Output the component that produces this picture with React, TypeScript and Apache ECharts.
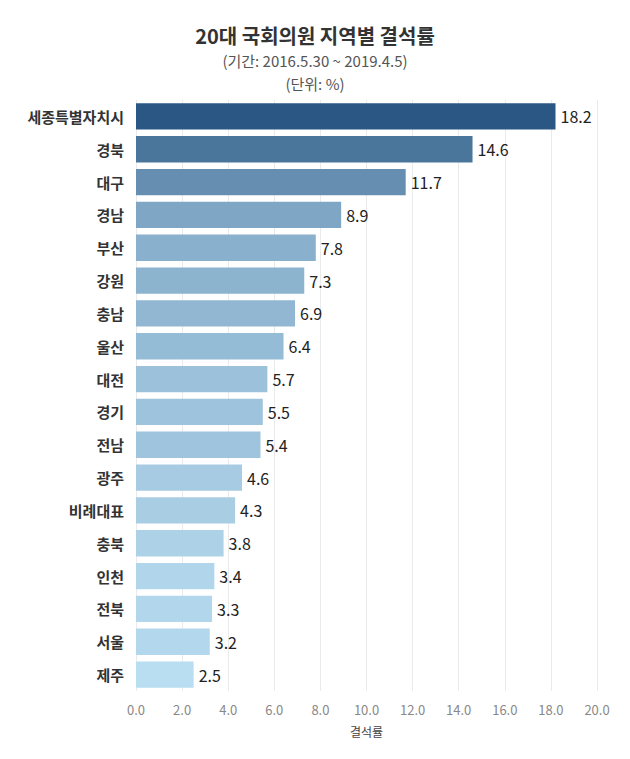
import React, { useEffect, useRef } from 'react';
import * as echarts from 'echarts';

const regions = ['세종특별자치시', '경북', '대구', '경남', '부산', '강원', '충남', '울산', '대전', '경기', '전남', '광주', '비례대표', '충북', '인천', '전북', '서울', '제주'];
const absenceRates = [18.2, 14.6, 11.7, 8.9, 7.8, 7.3, 6.9, 6.4, 5.7, 5.5, 5.4, 4.6, 4.3, 3.8, 3.4, 3.3, 3.2, 2.5];

const FONT = '"Noto Sans CJK KR", "Noto Sans", sans-serif';

const App = () => {
  const chartRef = useRef<HTMLDivElement>(null);

  useEffect(() => {
    if (!chartRef.current) return;
    const chart = echarts.init(chartRef.current, null, { renderer: 'svg' });
    const sub = { fontSize: 15, color: '#555', fontWeight: 'normal' as const, fontFamily: FONT };
    const option: echarts.EChartsOption = {
      animation: false,
      textStyle: { fontFamily: FONT },
      title: [
        {
          text: '20대 국회의원 지역별 결석률',
          left: 'center',
          top: 12,
          textStyle: { fontSize: 20, fontWeight: 'bold', color: '#333', fontFamily: FONT },
        },
        { text: '(기간: 2016.5.30 ~ 2019.4.5)', left: 'center', top: 40, textStyle: sub },
        { text: '(단위: %)', left: 'center', top: 63, textStyle: sub },
      ],
      visualMap: {
        show: false,
        min: 2.5,
        max: 18.2,
        dimension: 0,
        inRange: { color: ['#b9ddf1', '#2a5783'] },
      },
      grid: { left: 128, right: 25, top: 92, bottom: 60 },
      xAxis: {
        type: 'value',
        min: 0,
        max: 20,
        interval: 2,
        name: '결석률',
        nameLocation: 'middle',
        nameGap: 34,
        nameTextStyle: { fontSize: 12, color: '#444' },
        axisLabel: { formatter: (v: number) => v.toFixed(1), color: '#888', fontSize: 13, margin: 12 },
        splitLine: { lineStyle: { color: '#eaeaea' } },
        axisLine: { show: false },
      },
      yAxis: {
        type: 'category',
        inverse: true,
        data: regions,
        axisTick: { show: false },
        axisLine: { show: false },
        axisLabel: { fontSize: 15, fontWeight: 'bold', color: '#333', margin: 12 },
      },
      series: [
        {
          type: 'bar',
          data: absenceRates,
          barCategoryGap: '20%',
          label: {
            show: true,
            position: 'right',
            formatter: (p: any) => Number(p.value).toFixed(1),
            fontSize: 16,
            color: '#222',
            distance: 5,
          },
        },
      ],
    };
    chart.setOption(option);
    return () => chart.dispose();
  }, []);

  return <div ref={chartRef} style={{ width: 614, height: 743 }} />;
};

export default App;
